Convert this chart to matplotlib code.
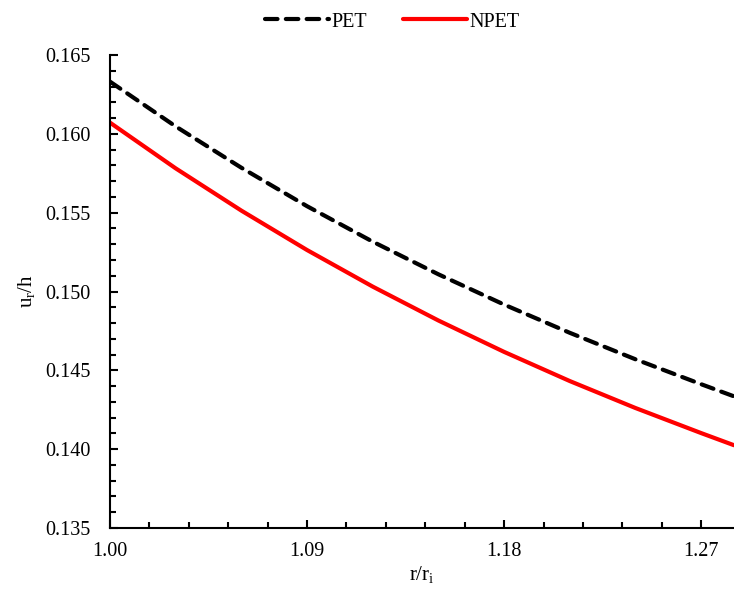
import matplotlib
matplotlib.use("Agg")
import matplotlib.pyplot as plt
from matplotlib.ticker import FixedLocator, MultipleLocator, FormatStrFormatter

plt.rcParams['font.family'] = ['Liberation Serif', 'DejaVu Serif']
plt.rcParams['mathtext.fontset'] = 'custom'
plt.rcParams['mathtext.rm'] = 'Liberation Serif'
plt.rcParams['mathtext.it'] = 'Liberation Serif:italic'

r = [1.00, 1.03, 1.06, 1.09, 1.12, 1.15, 1.18, 1.21, 1.24, 1.27, 1.285]
pet = [0.16331, 0.16047, 0.15785, 0.15541, 0.15316, 0.15109, 0.14917, 0.14738, 0.14570, 0.14412, 0.14335]
npet = [0.16071, 0.15781, 0.15513, 0.15263, 0.15031, 0.14816, 0.14617, 0.14432, 0.14261, 0.14102, 0.14025]
xticks = [1.00, 1.09, 1.18, 1.27]

fig = plt.figure(figsize=(7.34, 5.94), dpi=100)
ax = fig.add_axes([110/734, 66/594, 1 - 110/734, (528-55)/594])

ax.plot(r, pet, color='black', lw=3, ls=(0, (3, 2)), dash_capstyle='round', label='PET')
ax.plot(r, npet, color='#ff0000', lw=3, solid_capstyle='round', label='NPET')

ax.set_xlim(1.0, 1.285)
ax.set_ylim(0.135, 0.165)
ax.xaxis.set_major_locator(FixedLocator(xticks))
ax.xaxis.set_minor_locator(FixedLocator([1.0 + 0.018 * i for i in range(16)]))
ax.yaxis.set_major_locator(MultipleLocator(0.005))
ax.yaxis.set_minor_locator(MultipleLocator(0.001))
ax.xaxis.set_major_formatter(FormatStrFormatter('%.2f'))
ax.yaxis.set_major_formatter(FormatStrFormatter('%.3f'))

for s in ['top', 'right']:
    ax.spines[s].set_visible(False)
for s in ['left', 'bottom']:
    ax.spines[s].set_linewidth(1.5)

ax.tick_params(which='both', direction='in', width=1.5, labelsize=14.5)
ax.tick_params(axis='y', which='major', length=6, pad=14)
ax.tick_params(axis='x', which='major', length=6, pad=10)
ax.tick_params(which='minor', length=4)

ax.set_xlabel(r'r/r$_\mathrm{i}$', fontsize=15, labelpad=2)
ax.set_ylabel(r'u$_\mathrm{r}$/h', fontsize=15, labelpad=6)

fig.legend(loc='center', bbox_to_anchor=(392/734, 1 - 22/594), ncol=2, frameon=False,
           fontsize=14.5, handlelength=3.2, handletextpad=0.1, columnspacing=1.8)

fig.savefig('out.png', dpi=100)
